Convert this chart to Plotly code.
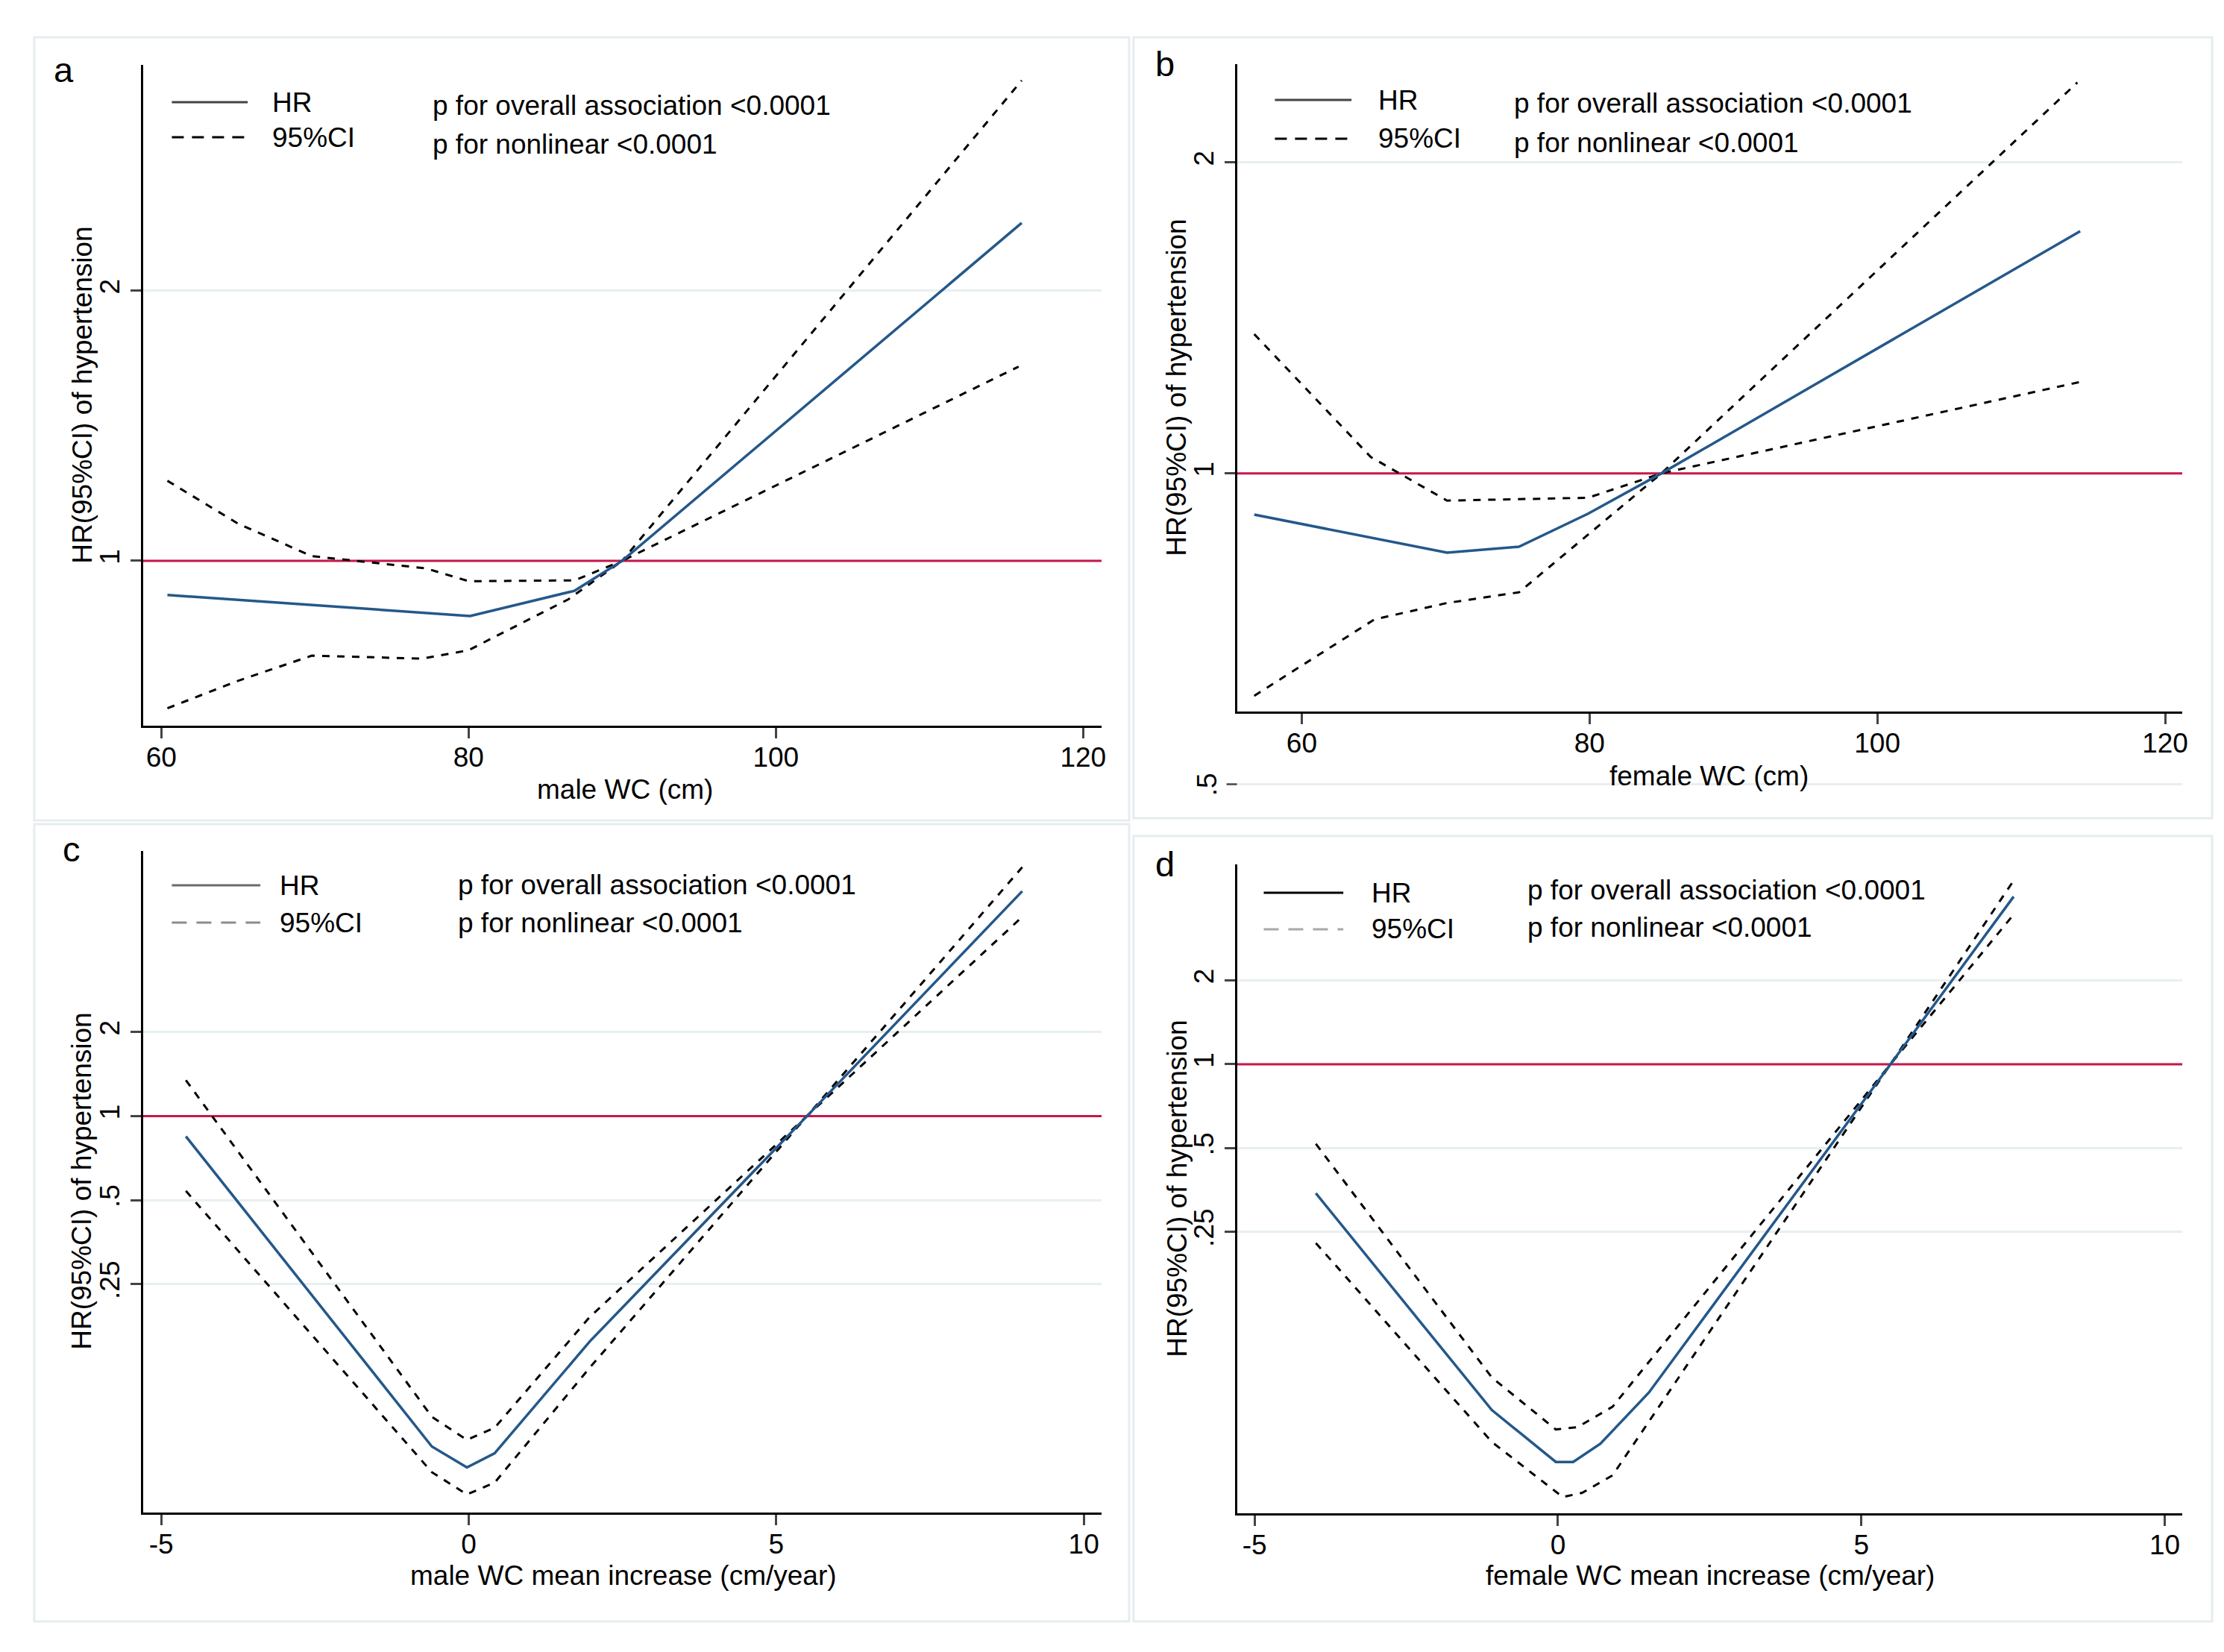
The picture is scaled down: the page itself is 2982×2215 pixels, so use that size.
import math
import plotly.graph_objects as go

W, H = 2982, 2215
FONT = "Liberation Sans, Arial, sans-serif"
FS = 37

# ---------------- data ----------------
# Panel a: male WC (cm)
a_hr_x = [60.4, 80.1, 86.9, 90.0, 116.0]
a_hr_y = [0.916, 0.868, 0.926, 1.0, 2.38]
a_up_x = [60.4, 65.0, 69.8, 77.2, 80.0, 86.9, 90.0, 116.0]
a_up_y = [1.228, 1.10, 1.012, 0.981, 0.949, 0.951, 1.0, 3.43]
a_lo_x = [60.4, 65.0, 69.8, 77.0, 80.0, 86.5, 90.0, 115.8]
a_lo_y = [0.685, 0.735, 0.784, 0.778, 0.795, 0.906, 1.0, 1.646]

# Panel b: female WC (cm)
b_hr_x = [56.7, 70.1, 75.1, 79.9, 85.0, 114.1]
b_hr_y = [0.912, 0.838, 0.849, 0.914, 1.0, 1.716]
b_up_x = [56.7, 64.8, 70.1, 79.9, 85.0, 113.9]
b_up_y = [1.364, 1.037, 0.941, 0.947, 1.0, 2.39]
b_lo_x = [56.7, 65.05, 70.1, 75.1, 85.0, 114.1]
b_lo_y = [0.609, 0.722, 0.749, 0.767, 1.0, 1.226]

# Panel c: male WC mean increase (cm/year)
c_hr_x = [-4.6, -0.6, -0.03, 0.42, 1.97, 5.5, 9.0]
c_hr_y = [0.846, 0.0655, 0.0551, 0.0619, 0.156, 1.0, 6.39]
c_up_x = [-4.6, -0.6, -0.03, 0.42, 1.97, 5.5, 9.0]
c_up_y = [1.344, 0.0837, 0.0692, 0.0764, 0.191, 1.0, 7.79]
c_lo_x = [-4.6, -0.6, -0.03, 0.42, 1.97, 5.5, 9.0]
c_lo_y = [0.539, 0.053, 0.0441, 0.0486, 0.1257, 1.0, 5.17]

# Panel d: female WC mean increase (cm/year)
d_hr_x = [-3.99, -1.09, -0.035, 0.25, 0.7, 1.5, 5.48, 7.51]
d_hr_y = [0.344, 0.0573, 0.0373, 0.0373, 0.0434, 0.0663, 1.0, 4.0]
d_up_x = [-3.99, -1.09, -0.035, 0.32, 0.9, 5.48, 7.51]
d_up_y = [0.518, 0.075, 0.0488, 0.0497, 0.0589, 1.0, 4.57]
d_lo_x = [-3.99, -1.09, 0.08, 0.4, 0.9, 5.48, 7.51]
d_lo_y = [0.228, 0.044, 0.0279, 0.0289, 0.0334, 1.0, 3.45]

REF_HR = 1.0  # reference line

# ticks
wc_xticks = [60, 80, 100, 120]
inc_xticks = [-5, 0, 5, 10]
inc_xlabels = ["-5", "0", "5", "10"]
a_yticks = [1, 2]
b_yticks = [1, 2]
cd_yticks = [0.25, 0.5, 1, 2]
cd_ylabels = [".25", ".5", "1", "2"]

# texts
x_titles = ["male WC (cm)", "female WC (cm)",
            "male WC mean increase (cm/year)", "female WC mean increase (cm/year)"]
y_title = "HR(95%CI) of hypertension"
p_texts = ["p for overall association <0.0001", "p for nonlinear <0.0001"]
letters = ["a", "b", "c", "d"]

# ---------------- layout geometry (pixels) ----------------
def px(x):
    return x / W

def py(y):
    return 1 - y / H

# plot areas (left, right, top, bottom) in px
areas = [
    (184, 1473, 79, 965),
    (1655, 2926, 78, 946),
    (184, 1473, 1133, 2020),
    (1655, 2926, 1151, 2021),
]
xranges = [[58.8, 121.2], [55.5, 121.2], [-5.3, 10.29], [-5.29, 10.29]]
yranges = [
    [math.log10(0.655), math.log10(3.57)],
    [math.log10(0.588), math.log10(2.49)],
    [math.log10(0.038), math.log10(8.9)],
    [math.log10(0.0244), math.log10(5.22)],
]

HR_COLOR = "#24588a"
CI_COLOR = "#000000"
RED = "#c8174a"
GRID = "#e8eff1"
BOX = "#e6edef"
CI_DASH = "10px,10px"

fig = go.Figure()

panels = [
    (a_hr_x, a_hr_y, a_up_x, a_up_y, a_lo_x, a_lo_y),
    (b_hr_x, b_hr_y, b_up_x, b_up_y, b_lo_x, b_lo_y),
    (c_hr_x, c_hr_y, c_up_x, c_up_y, c_lo_x, c_lo_y),
    (d_hr_x, d_hr_y, d_up_x, d_up_y, d_lo_x, d_lo_y),
]

for i, (hx, hy, ux, uy, lx, ly) in enumerate(panels):
    xa = "x" if i == 0 else f"x{i+1}"
    ya = "y" if i == 0 else f"y{i+1}"
    # reference line HR = 1 across the axis range
    fig.add_trace(go.Scatter(x=xranges[i], y=[REF_HR, REF_HR], mode="lines",
                             xaxis=xa, yaxis=ya, line=dict(color=RED, width=3),
                             showlegend=False, hoverinfo="skip", name="HR = 1"))
    fig.add_trace(go.Scatter(x=ux, y=uy, mode="lines", xaxis=xa, yaxis=ya,
                             line=dict(color=CI_COLOR, width=3, dash=CI_DASH),
                             showlegend=False, name="95%CI upper"))
    fig.add_trace(go.Scatter(x=lx, y=ly, mode="lines", xaxis=xa, yaxis=ya,
                             line=dict(color=CI_COLOR, width=3, dash=CI_DASH),
                             showlegend=False, name="95%CI lower"))
    fig.add_trace(go.Scatter(x=hx, y=hy, mode="lines", xaxis=xa, yaxis=ya,
                             line=dict(color=HR_COLOR, width=3.5),
                             showlegend=False, name="HR"))

layout = dict(
    width=W, height=H,
    margin=dict(l=0, r=0, t=0, b=0),
    paper_bgcolor="white", plot_bgcolor="white",
    font=dict(family=FONT, size=FS, color="#000000"),
    showlegend=False,
)

xtick_sets = [
    (wc_xticks, [str(v) for v in wc_xticks]),
    (wc_xticks, [str(v) for v in wc_xticks]),
    (inc_xticks, inc_xlabels),
    (inc_xticks, inc_xlabels),
]
ytick_sets = [
    (a_yticks, [str(v) for v in a_yticks]),
    (b_yticks, [str(v) for v in b_yticks]),
    (cd_yticks, cd_ylabels),
    (cd_yticks, cd_ylabels),
]

for i, (l, r, t, b) in enumerate(areas):
    sfx = "" if i == 0 else str(i + 1)
    layout["xaxis" + sfx] = dict(
        domain=[px(l), px(r)], range=xranges[i],
        anchor="y" + sfx,
        tickvals=xtick_sets[i][0], ticktext=xtick_sets[i][1],
        showline=True, linecolor="#000000", linewidth=2.5,
        ticks="outside", ticklen=14, tickwidth=2.5, tickcolor="#444444",
        ticklabelstandoff=-6,
        showgrid=False, zeroline=False,
        tickfont=dict(family=FONT, size=FS, color="#000000"),
    )
    layout["yaxis" + sfx] = dict(
        domain=[py(b), py(t)], range=yranges[i], type="log",
        anchor="x" + sfx,
        tickvals=ytick_sets[i][0], ticktext=ytick_sets[i][1],
        tickangle=-90,
        showline=True, linecolor="#000000", linewidth=2.5,
        ticks="outside", ticklen=14, tickwidth=2.5, tickcolor="#444444",
        showgrid=True, gridcolor=GRID, gridwidth=3, zeroline=False,
        tickfont=dict(family=FONT, size=FS, color="#000000"),
    )

fig.update_layout(**layout)

shapes = []
annotations = []

# panel frames
boxes = [(38, 1510, 42, 1092), (1516, 2966, 42, 1089),
         (38, 1510, 1097, 2166), (1516, 2966, 1113, 2166)]
for (l, r, t, b) in boxes:
    shapes.append(dict(type="rect", xref="paper", yref="paper",
                       x0=px(l), x1=px(r), y0=py(b), y1=py(t),
                       line=dict(color=BOX, width=3), layer="below"))

# legends (keys + labels) and p-value notes
leg = [
    dict(k0=223, k1=325, yh=129, yc=176, tx=356, ptx=572, p1=133, p2=186,
         hc="#444444", cc="#000000", cdash="16px,11px"),
    dict(k0=1706, k1=1809, yh=126, yc=178, tx=1843, ptx=2025, p1=130, p2=183,
         hc="#444444", cc="#000000", cdash="16px,11px"),
    dict(k0=223, k1=342, yh=1179, yc=1229, tx=366, ptx=606, p1=1178, p2=1229,
         hc="#6a6a6a", cc="#8c8c8c", cdash="20px,13px"),
    dict(k0=1691, k1=1798, yh=1189, yc=1238, tx=1834, ptx=2043, p1=1185, p2=1235,
         hc="#000000", cc="#a8a8a8", cdash="20px,13px"),
]
for g in leg:
    shapes.append(dict(type="line", xref="paper", yref="paper",
                       x0=px(g["k0"]), x1=px(g["k1"]), y0=py(g["yh"]), y1=py(g["yh"]),
                       line=dict(color=g["hc"], width=3)))
    shapes.append(dict(type="line", xref="paper", yref="paper",
                       x0=px(g["k0"]), x1=px(g["k1"]), y0=py(g["yc"]), y1=py(g["yc"]),
                       line=dict(color=g["cc"], width=3, dash=g["cdash"])))
    annotations.append(dict(text="HR", xref="paper", yref="paper",
                            x=px(g["tx"]), y=py(g["yh"]), xanchor="left", yanchor="middle",
                            showarrow=False, font=dict(size=FS)))
    annotations.append(dict(text="95%CI", xref="paper", yref="paper",
                            x=px(g["tx"]), y=py(g["yc"]), xanchor="left", yanchor="middle",
                            showarrow=False, font=dict(size=FS)))
    annotations.append(dict(text=p_texts[0], xref="paper", yref="paper",
                            x=px(g["ptx"]), y=py(g["p1"]), xanchor="left", yanchor="middle",
                            showarrow=False, font=dict(size=FS)))
    annotations.append(dict(text=p_texts[1], xref="paper", yref="paper",
                            x=px(g["ptx"]), y=py(g["p2"]), xanchor="left", yanchor="middle",
                            showarrow=False, font=dict(size=FS)))

# axis titles
xt_pos = [(832, 1050), (2290, 1032), (830, 2104), (2291, 2104)]
yt_pos = [(102, 522), (1574, 512), (101, 1576), (1574, 1586)]
for i in range(4):
    annotations.append(dict(text=x_titles[i], xref="paper", yref="paper",
                            x=px(xt_pos[i][0]), y=py(xt_pos[i][1]),
                            xanchor="center", yanchor="middle", showarrow=False,
                            font=dict(size=FS)))
    annotations.append(dict(text=y_title, xref="paper", yref="paper",
                            x=px(yt_pos[i][0]), y=py(yt_pos[i][1]), textangle=-90,
                            xanchor="center", yanchor="middle", showarrow=False,
                            font=dict(size=FS)))

# panel letters
let_pos = [(78, 86), (1558, 78), (88, 1130), (1558, 1150)]
for i in range(4):
    annotations.append(dict(text=letters[i], xref="paper", yref="paper",
                            x=px(let_pos[i][0]), y=py(let_pos[i][1]),
                            xanchor="center", yanchor="middle", showarrow=False,
                            font=dict(size=47)))

# panel b: the ".5" tick that falls below the plot region
l, r, t, b = areas[1]
r0, r1 = yranges[1]
frac = (math.log10(0.5) - r0) / (r1 - r0)
y_half_px = b - frac * (b - t)
shapes.append(dict(type="line", xref="paper", yref="paper",
                   x0=px(l), x1=px(r), y0=py(y_half_px), y1=py(y_half_px),
                   line=dict(color=GRID, width=3), layer="below"))
shapes.append(dict(type="line", xref="paper", yref="paper",
                   x0=px(l - 14), x1=px(l), y0=py(y_half_px), y1=py(y_half_px),
                   line=dict(color="#444444", width=2.5)))
annotations.append(dict(text=".5", xref="paper", yref="paper",
                        x=px(l - 40), y=py(y_half_px), textangle=-90,
                        xanchor="center", yanchor="middle", showarrow=False,
                        font=dict(size=FS)))

fig.update_layout(shapes=shapes, annotations=annotations)
fig.write_html("out.html")
